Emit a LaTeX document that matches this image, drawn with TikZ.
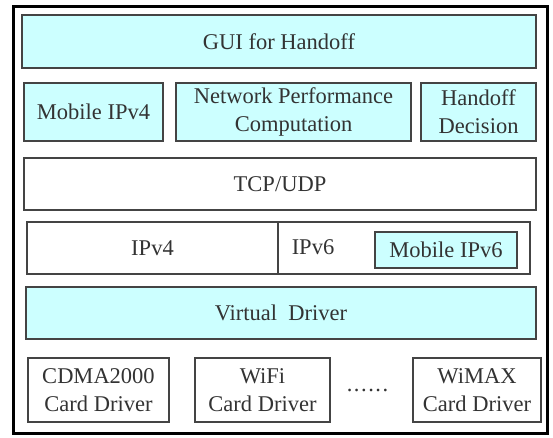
\documentclass[tikz,border=0pt]{standalone}
\usepackage{fontspec}
\setmainfont{Liberation Serif}
\definecolor{cyanfill}{HTML}{CCFFFF}
\definecolor{txtgray}{HTML}{333333}
\definecolor{linegray}{HTML}{444444}
\begin{document}
\begin{tikzpicture}[x=1pt,y=-1pt,
  lbl/.style={font=\fontsize{22.5}{28}\selectfont, text=txtgray, align=center, inner sep=0pt},
  box/.style={lbl, draw=linegray, line width=1.4pt, rectangle},
  cbox/.style={box, fill=cyanfill},
  wbox/.style={box, fill=white},
  frame/.style={draw=black, line width=3pt}]
\useasboundingbox (0,0) rectangle (553,437);
\fill[white] (0,0) rectangle (553,437);
\node[frame, minimum width=534pt, minimum height=427pt, inner sep=0pt] (outer) at (280,219.5) {};
\node[cbox, minimum width=514pt, minimum height=53pt] (gui) at (279,41.5) {GUI for Handoff};
\node[cbox, minimum width=139pt, minimum height=58pt] (mip4) at (93.5,112) {Mobile IPv4};
\node[cbox, minimum width=235pt, minimum height=58pt] (npc) at (293.5,112) {Network Performance\\Computation};
\node[cbox, minimum width=115pt, minimum height=58pt] (hd) at (478.5,112) {Handoff\\Decision};
\node[wbox, minimum width=512pt, minimum height=52pt] (tcp) at (280,184) {TCP/UDP};
\node[wbox, minimum width=251pt, minimum height=52pt] (ipv4) at (152.5,248) {IPv4};
\node[wbox, minimum width=252pt, minimum height=52pt] (ipv6) at (404,248) {};
\node[lbl] (ipv6t) at (313,247) {IPv6};
\node[cbox, minimum width=142pt, minimum height=36pt] (mip6) at (446,250) {Mobile IPv6};
\node[cbox, minimum width=510pt, minimum height=52pt] (vd) at (281,313) {Virtual\ \ Driver};
\node[wbox, minimum width=141pt, minimum height=64pt] (cdma) at (98.5,390) {CDMA2000\\Card Driver};
\node[wbox, minimum width=135pt, minimum height=64pt] (wifi) at (262.5,390) {WiFi\\Card Driver};
\node[lbl] (dots) at (367.5,390) {.\hspace{1.5pt}.\hspace{1.5pt}.\hspace{1.5pt}.\hspace{1.5pt}.\hspace{1.5pt}.};
\node[wbox, minimum width=128pt, minimum height=64pt] (wimax) at (477,390) {WiMAX\\Card Driver};
\end{tikzpicture}
\end{document}
